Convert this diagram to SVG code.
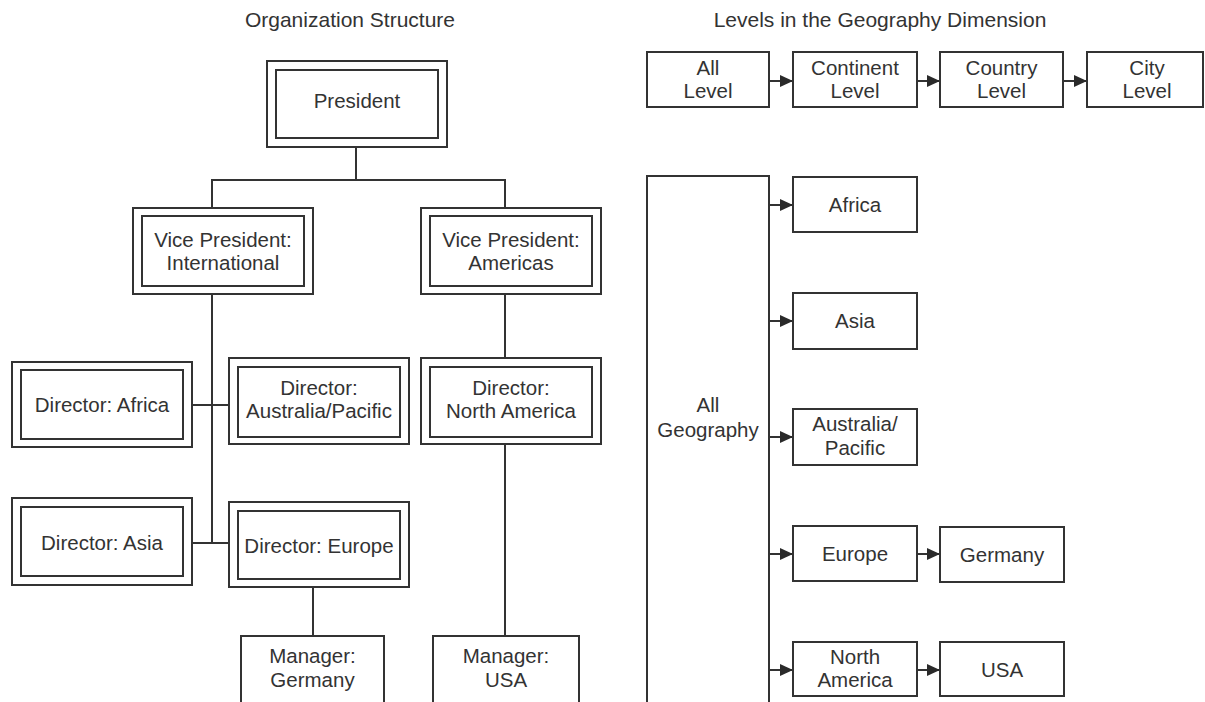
<svg xmlns="http://www.w3.org/2000/svg" width="1205" height="702" viewBox="0 0 1205 702">
<style>
  .box { fill: #fff; stroke: #333; stroke-width: 2; }
  .inner { fill: none; stroke: #333; stroke-width: 2; }
  .lbl { font-family: "Liberation Sans", Arial, sans-serif; font-size: 20.5px; fill: #333; text-anchor: middle; }
  .title { font-family: "Liberation Sans", Arial, sans-serif; font-size: 21px; fill: #333; text-anchor: middle; }
  .line { fill: none; stroke: #333; stroke-width: 2; }
  .arrow { fill: none; stroke: #333; stroke-width: 2; marker-end: url(#ah); }
</style>
<defs>
  <marker id="ah" markerUnits="userSpaceOnUse" viewBox="0 0 13 12" markerWidth="13" markerHeight="12" refX="13" refY="6" orient="auto">
    <path d="M0,0 L13,6 L0,12 z" fill="#2a2a2a"/>
  </marker>
</defs>
<rect x="0" y="0" width="1205" height="702" fill="#fff"/>

<text class="title" x="350" y="27">Organization Structure</text>
<text class="title" x="880" y="27">Levels in the Geography Dimension</text>

<g id="connectors">
  <path class="line" d="M356,147 V180 M211,180 H506 M212,180 V208 M505,180 V208 M212,294 V543 M192,405 H229 M192,543 H229 M505,294 V358 M313,587 V636 M505,444 V636"/>
  <path class="arrow" d="M770,81 H793"/>
  <path class="arrow" d="M917,81 H940"/>
  <path class="arrow" d="M1063,81 H1087"/>
  <path class="arrow" d="M770,205 H793"/>
  <path class="arrow" d="M770,321 H793"/>
  <path class="arrow" d="M770,437 H793"/>
  <path class="arrow" d="M770,554 H793"/>
  <path class="arrow" d="M770,670 H793"/>
  <path class="arrow" d="M918,554 H940"/>
  <path class="arrow" d="M918,670 H940"/>
</g>

<g id="president">
  <rect class="box" x="267" y="61" width="180" height="86"/>
  <rect class="inner" x="276" y="70" width="162" height="68"/>
  <text class="lbl" x="357" y="108">President</text>
</g>
<g id="vp-international">
  <rect class="box" x="133" y="208" width="180" height="86"/>
  <rect class="inner" x="142" y="216" width="162" height="70"/>
  <text class="lbl" x="223" y="247">Vice President:</text>
  <text class="lbl" x="223" y="270">International</text>
</g>
<g id="vp-americas">
  <rect class="box" x="421" y="208" width="180" height="86"/>
  <rect class="inner" x="430" y="216" width="162" height="70"/>
  <text class="lbl" x="511" y="247">Vice President:</text>
  <text class="lbl" x="511" y="270">Americas</text>
</g>
<g id="dir-africa">
  <rect class="box" x="12" y="362" width="180" height="85"/>
  <rect class="inner" x="21" y="370" width="162" height="69"/>
  <text class="lbl" x="102" y="412">Director: Africa</text>
</g>
<g id="dir-australia">
  <rect class="box" x="229" y="358" width="180" height="86"/>
  <rect class="inner" x="238" y="367" width="162" height="70"/>
  <text class="lbl" x="319" y="395">Director:</text>
  <text class="lbl" x="319" y="418">Australia/Pacific</text>
</g>
<g id="dir-north-america">
  <rect class="box" x="421" y="358" width="180" height="86"/>
  <rect class="inner" x="430" y="367" width="162" height="70"/>
  <text class="lbl" x="511" y="395">Director:</text>
  <text class="lbl" x="511" y="418">North America</text>
</g>
<g id="dir-asia">
  <rect class="box" x="12" y="498" width="180" height="87"/>
  <rect class="inner" x="21" y="507" width="162" height="69"/>
  <text class="lbl" x="102" y="550">Director: Asia</text>
</g>
<g id="dir-europe">
  <rect class="box" x="229" y="502" width="180" height="85"/>
  <rect class="inner" x="238" y="511" width="162" height="68"/>
  <text class="lbl" x="319" y="553">Director: Europe</text>
</g>
<g id="mgr-germany">
  <rect class="box" x="241" y="636" width="143" height="80"/>
  <text class="lbl" x="312.5" y="663">Manager:</text>
  <text class="lbl" x="312.5" y="687">Germany</text>
</g>
<g id="mgr-usa">
  <rect class="box" x="433" y="636" width="146" height="80"/>
  <text class="lbl" x="506" y="663">Manager:</text>
  <text class="lbl" x="506" y="687">USA</text>
</g>

<g id="all-level">
  <rect class="box" x="647" y="52" width="122" height="55"/>
  <text class="lbl" x="708" y="75">All</text>
  <text class="lbl" x="708" y="98">Level</text>
</g>
<g id="continent-level">
  <rect class="box" x="793" y="52" width="124" height="55"/>
  <text class="lbl" x="855" y="75">Continent</text>
  <text class="lbl" x="855" y="98">Level</text>
</g>
<g id="country-level">
  <rect class="box" x="940" y="52" width="123" height="55"/>
  <text class="lbl" x="1001.5" y="75">Country</text>
  <text class="lbl" x="1001.5" y="98">Level</text>
</g>
<g id="city-level">
  <rect class="box" x="1087" y="52" width="116" height="55"/>
  <text class="lbl" x="1147" y="75">City</text>
  <text class="lbl" x="1147" y="98">Level</text>
</g>

<g id="all-geography">
  <rect class="box" x="647" y="176" width="122" height="540"/>
  <text class="lbl" x="708" y="412">All</text>
  <text class="lbl" x="708" y="437">Geography</text>
</g>
<g id="africa">
  <rect class="box" x="793" y="177" width="124" height="55"/>
  <text class="lbl" x="855" y="212">Africa</text>
</g>
<g id="asia">
  <rect class="box" x="793" y="293" width="124" height="56"/>
  <text class="lbl" x="855" y="328">Asia</text>
</g>
<g id="australia-pacific">
  <rect class="box" x="793" y="409" width="124" height="56"/>
  <text class="lbl" x="855" y="431">Australia/</text>
  <text class="lbl" x="855" y="455">Pacific</text>
</g>
<g id="europe">
  <rect class="box" x="793" y="526" width="124" height="55"/>
  <text class="lbl" x="855" y="561">Europe</text>
</g>
<g id="germany">
  <rect class="box" x="940" y="527" width="124" height="55"/>
  <text class="lbl" x="1002" y="562">Germany</text>
</g>
<g id="north-america">
  <rect class="box" x="793" y="642" width="124" height="54"/>
  <text class="lbl" x="855" y="664">North</text>
  <text class="lbl" x="855" y="687">America</text>
</g>
<g id="usa">
  <rect class="box" x="940" y="642" width="124" height="54"/>
  <text class="lbl" x="1002" y="677">USA</text>
</g>
</svg>
